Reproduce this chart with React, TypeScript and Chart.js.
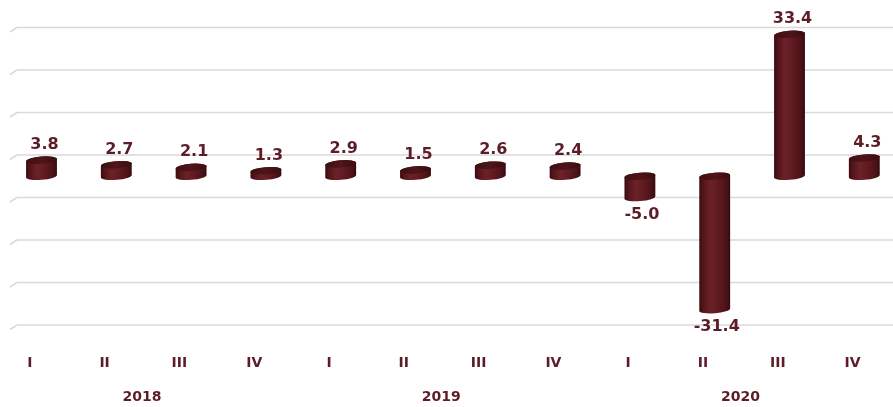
import { useEffect, useRef } from 'react';
import { Chart, registerables } from 'chart.js';

Chart.register(...registerables);

const quarters = ['I', 'II', 'III', 'IV', 'I', 'II', 'III', 'IV', 'I', 'II', 'III', 'IV'];
const years = ['2018', '2019', '2020'];
const values = [3.8, 2.7, 2.1, 1.3, 2.9, 1.5, 2.6, 2.4, -5.0, -31.4, 33.4, 4.3];
const gridValues = [35, 25, 15, 5, -5, -15, -25, -35];

const TEXT_COLOR = '#5c1d27';
const FONT = 'DejaVu Sans';
const SHIFT = 20; // canvas x of page x = 0
const CANVAS_W = 940;
const CANVAS_H = 407;

const cylinderPlugin = {
  id: 'cylinders',
  beforeDatasetsDraw(chart: any) {
    const ctx = chart.ctx;
    const ys = chart.scales.y;
    ctx.save();
    ctx.strokeStyle = '#d9d9d9';
    ctx.lineWidth = 1.6;
    gridValues.forEach((v) => {
      const py = ys.getPixelForValue(v);
      ctx.beginPath();
      ctx.moveTo(SHIFT + 10, py + 4.5);
      ctx.lineTo(SHIFT + 17, py);
      ctx.lineTo(chart.width, py);
      ctx.stroke();
    });
    ctx.restore();
  },
  afterDatasetsDraw(chart: any) {
    const ctx = chart.ctx;
    const meta = chart.getDatasetMeta(0);
    const vals = chart.data.datasets[0].data as number[];
    ctx.save();
    meta.data.forEach((el: any, i: number) => {
      const { x, y, base, width } = el.getProps(['x', 'y', 'base', 'width'], true);
      const top = Math.min(y, base);
      const bot = Math.max(y, base);
      const rx = width / 2;
      const ry = 3.6;
      const rot = -0.08;

      const g = ctx.createLinearGradient(x - rx, 0, x + rx, 0);
      g.addColorStop(0, '#3a0c11');
      g.addColorStop(0.12, '#521519');
      g.addColorStop(0.35, '#6c2128');
      g.addColorStop(0.6, '#601b21');
      g.addColorStop(0.88, '#4a1217');
      g.addColorStop(1, '#350a0e');

      ctx.beginPath();
      ctx.ellipse(x, top, rx, ry, rot, Math.PI, Math.PI * 2, false);
      ctx.ellipse(x, bot, rx, ry, rot, 0, Math.PI, false);
      ctx.closePath();
      ctx.fillStyle = g;
      ctx.fill();

      const gc = ctx.createLinearGradient(x - rx, 0, x + rx, 0);
      gc.addColorStop(0, '#3f0e12');
      gc.addColorStop(0.5, '#4e151a');
      gc.addColorStop(1, '#3a0c10');
      ctx.beginPath();
      ctx.ellipse(x, top, rx, ry, rot, 0, Math.PI * 2);
      ctx.fillStyle = gc;
      ctx.fill();

      const v = vals[i];
      ctx.fillStyle = TEXT_COLOR;
      ctx.font = `bold 16px "${FONT}"`;
      ctx.textAlign = 'center';
      ctx.textBaseline = 'middle';
      if (v >= 0) {
        ctx.fillText(v.toFixed(1), x + 3, top - 15);
      } else {
        ctx.fillText(v.toFixed(1), x + 2, bot + 17);
      }
    });
    ctx.restore();
  },
};

export default function App() {
  const ref = useRef<HTMLCanvasElement | null>(null);

  useEffect(() => {
    if (!ref.current) return;
    const tickFont = { family: FONT, size: 14, weight: 'bold' as const };
    const chart = new Chart(ref.current, {
      type: 'bar',
      data: {
        labels: quarters,
        datasets: [
          {
            data: values,
            backgroundColor: 'rgba(0,0,0,0)',
            borderWidth: 0,
            barPercentage: 0.414,
            categoryPercentage: 1,
          },
        ],
      },
      options: {
        responsive: false,
        animation: false,
        layout: { padding: { left: SHIFT + 4.1, right: CANVAS_W - (SHIFT + 901.7), top: 27.5, bottom: 0 } },
        plugins: { legend: { display: false }, tooltip: { enabled: false } },
        scales: {
          x: {
            type: 'category',
            offset: true,
            weight: 0,
            grid: { display: false, drawTicks: false },
            border: { display: false },
            ticks: {
              color: TEXT_COLOR,
              font: tickFont,
              padding: 30,
              labelOffset: -11.7,
              autoSkip: false,
              maxRotation: 0,
            },
            afterFit: (s: any) => {
              s.height = 48;
            },
          },
          x2: {
            type: 'category',
            labels: years,
            offset: true,
            position: 'bottom',
            weight: 1,
            grid: { display: false, drawTicks: false },
            border: { display: false },
            ticks: {
              color: TEXT_COLOR,
              font: tickFont,
              padding: 16,
              labelOffset: -11.7,
              autoSkip: false,
              maxRotation: 0,
            },
            afterFit: (s: any) => {
              s.height = 34;
            },
          },
          y: { display: false, min: -35, max: 35 },
        },
      },
      plugins: [cylinderPlugin],
    });
    return () => chart.destroy();
  }, []);

  return (
    <div
      style={{
        position: 'fixed',
        left: 0,
        top: 0,
        width: 893,
        height: 407,
        overflow: 'hidden',
        background: '#ffffff',
      }}
    >
      <canvas
        ref={ref}
        width={CANVAS_W}
        height={CANVAS_H}
        style={{ position: 'absolute', left: -SHIFT, top: 0, width: CANVAS_W, height: CANVAS_H, display: 'block' }}
      />
    </div>
  );
}
